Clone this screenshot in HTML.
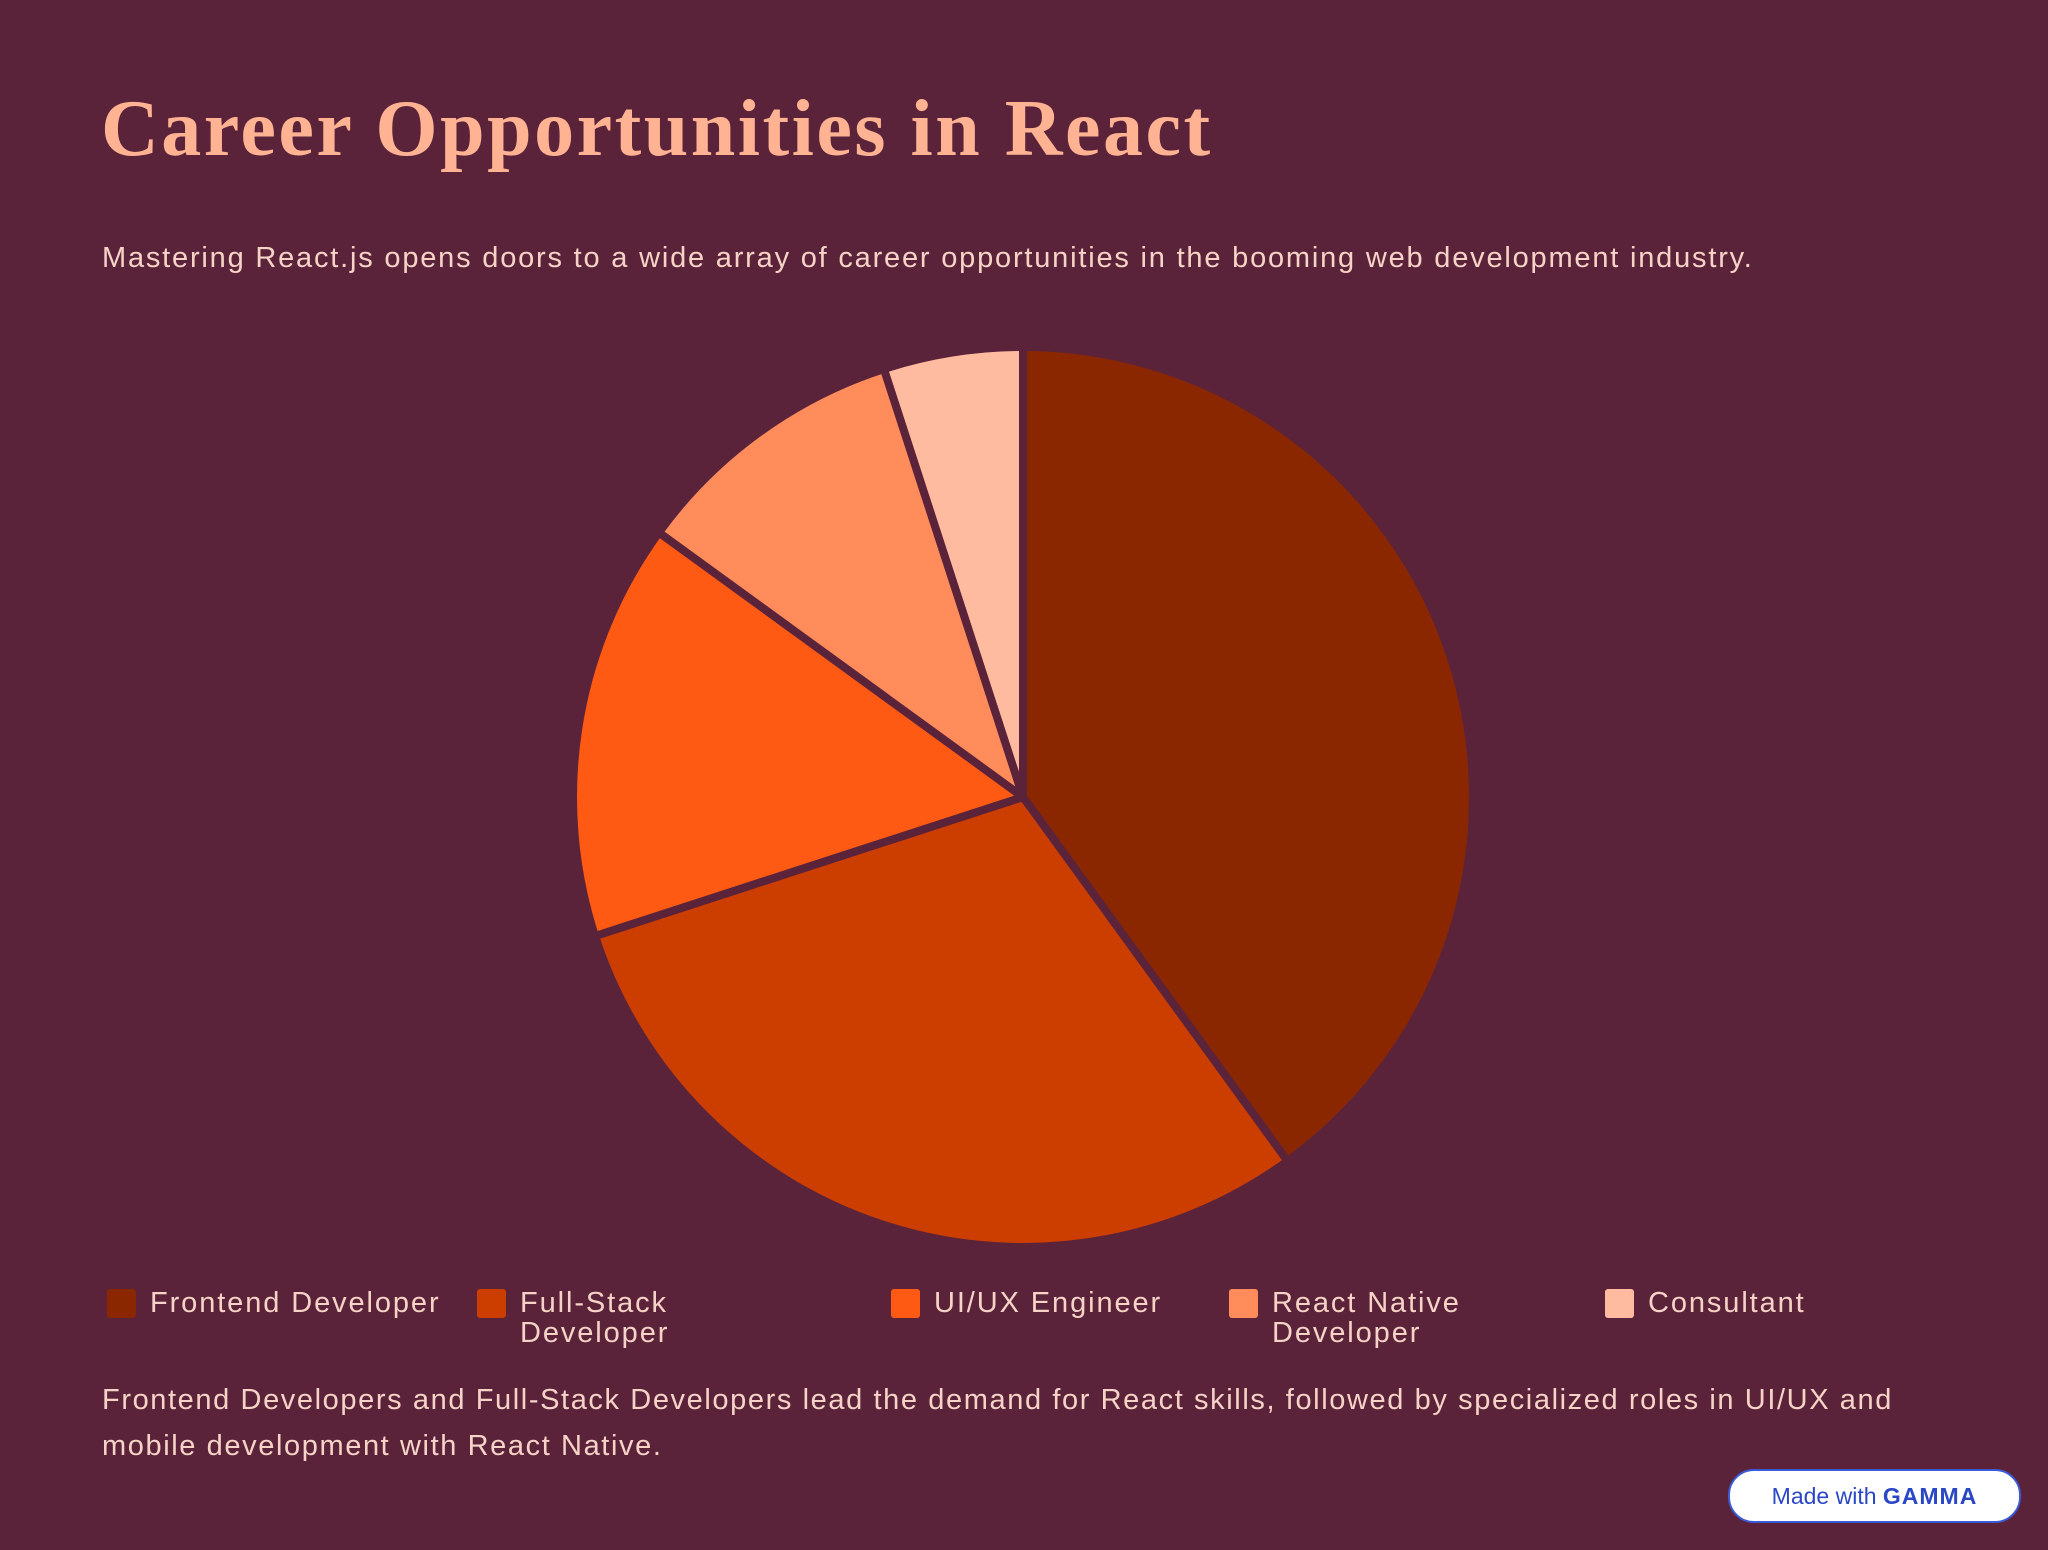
<!DOCTYPE html>
<html><head><meta charset="utf-8"><style>
html,body{margin:0;padding:0;}
body{width:2048px;height:1550px;background:#5B233A;position:relative;overflow:hidden;font-family:"Liberation Sans",sans-serif;color:#F6D3C6;}
.t{position:absolute;white-space:nowrap;}
#title{left:101px;top:84px;font-family:"Liberation Serif",serif;font-weight:bold;font-size:80px;color:#FFB392;letter-spacing:2.5px;}
#sub{left:102px;top:242px;font-size:29px;letter-spacing:1.8px;}
.leg{position:absolute;top:1288px;font-size:29px;line-height:30px;letter-spacing:1.9px;}
.sw{position:absolute;width:29px;height:29px;border-radius:3px;top:1289px;}
.foot{left:102px;font-size:29px;letter-spacing:1.6px;}
#badge{position:absolute;left:1728px;top:1469px;width:289px;height:50px;border:2px solid #3B5BDB;border-radius:26px;background:#fff;color:#2A47C6;font-size:23px;line-height:50px;text-align:center;}
</style></head><body>
<div class="t" id="title">Career Opportunities in React</div>
<div class="t" id="sub">Mastering React.js opens doors to a wide array of career opportunities in the booming web development industry.</div>
<svg id="pie" width="2048" height="1550" style="position:absolute;left:0;top:0"></svg>
<div class="sw" style="left:107px;background:#8B2700"></div>
<div class="leg" style="left:150px">Frontend Developer</div>
<div class="sw" style="left:477px;background:#CC3D00"></div>
<div class="leg" style="left:520px">Full-Stack<br>Developer</div>
<div class="sw" style="left:891px;background:#FF5A14"></div>
<div class="leg" style="left:934px">UI/UX Engineer</div>
<div class="sw" style="left:1229px;background:#FF8C5A"></div>
<div class="leg" style="left:1272px">React Native<br>Developer</div>
<div class="sw" style="left:1605px;background:#FFBBA0"></div>
<div class="leg" style="left:1648px">Consultant</div>
<div class="t foot" style="top:1384px">Frontend Developers and Full-Stack Developers lead the demand for React skills, followed by specialized roles in UI/UX and</div>
<div class="t foot" style="top:1430px">mobile development with React Native.</div>
<div id="badge">Made with <b style="letter-spacing:1px">GAMMA</b></div>
<script>
const categories=["Frontend Developer","Full-Stack Developer","UI/UX Engineer","React Native Developer","Consultant"];
const values=[40,30,15,10,5];
const colors=["#8B2700","#CC3D00","#FF5A14","#FF8C5A","#FFBBA0"];
const svg=document.getElementById('pie');
const cx=1023,cy=797,r=450;
const total=values.reduce((a,b)=>a+b,0);
let a0=0;
function pt(a){return [cx+r*Math.sin(a),cy-r*Math.cos(a)];}
values.forEach((v,i)=>{
  const a1=a0+v/total*2*Math.PI;
  const p0=pt(a0),p1=pt(a1);
  const large=(a1-a0)>Math.PI?1:0;
  const p=document.createElementNS('http://www.w3.org/2000/svg','path');
  p.setAttribute('d',`M${cx},${cy} L${p0[0]},${p0[1]} A${r},${r} 0 ${large} 1 ${p1[0]},${p1[1]} Z`);
  p.setAttribute('fill',colors[i]);
  p.setAttribute('stroke','#5B233A');
  p.setAttribute('stroke-width','8');
  p.setAttribute('stroke-linejoin','round');
  
  
  svg.appendChild(p);
  a0=a1;
});
</script>
</body></html>
